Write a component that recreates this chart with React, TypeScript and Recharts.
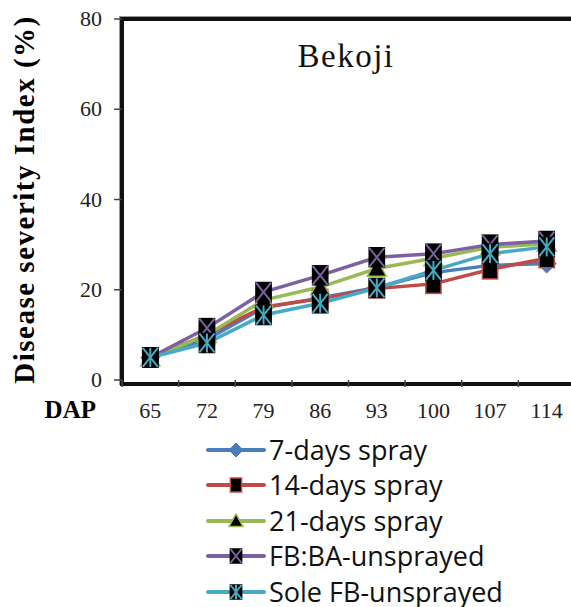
import React from 'react';
import { Customized, Legend, Line, LineChart, XAxis, YAxis } from 'recharts';

const days = [65, 72, 79, 86, 93, 100, 107, 114];
const spray7 = [5, 9, 16, 18.2, 20.5, 23.8, 25.4, 25.8];
const spray14 = [5, 10, 16.2, 18, 20.3, 21.3, 24.5, 27];
const spray21 = [4.8, 10, 17.7, 20.6, 24.7, 27, 29.4, 30.2];
const fbba = [5, 11.5, 19.5, 23.2, 27.2, 28, 30, 30.8];
const soleFb = [5, 8.2, 14.4, 17, 20.4, 24.3, 28, 29.5];

const boundaries = [61.5, 68.5, 75.5, 82.5, 89.5, 96.5, 103.5, 110.5];
const yTicks = [0, 20, 40, 60, 80];

const SERIES = [
  { key: 'spray7', name: '7-days spray', color: '#4a7ebb', kind: 'diamond' },
  { key: 'spray14', name: '14-days spray', color: '#be4b48', kind: 'square' },
  { key: 'spray21', name: '21-days spray', color: '#98b954', kind: 'triangle' },
  { key: 'fbba', name: 'FB:BA-unsprayed', color: '#7d60a0', kind: 'cross' },
  { key: 'soleFb', name: 'Sole FB-unsprayed', color: '#46aac5', kind: 'star' },
];

const data = days.map((d, i) => ({
  day: d,
  spray7: spray7[i],
  spray14: spray14[i],
  spray21: spray21[i],
  fbba: fbba[i],
  soleFb: soleFb[i],
}));

const SERIF = '"Liberation Serif", "Times New Roman", serif';
const SANS = '"Open Sans", "Noto Sans", sans-serif';

// plot box: y axis width 122, top margin 19, x axis height 49, legend 178
const PLOT = { left: 122, top: 19, width: 453, height: 361 };

function Marker({ kind, cx, cy, s, color }: { kind: string; cx: number; cy: number; s: number; color: string }) {
  const h = s / 2;
  if (kind === 'diamond') {
    return <path d={`M${cx},${cy - h} L${cx + h},${cy} L${cx},${cy + h} L${cx - h},${cy} Z`} fill={color} stroke={color} />;
  }
  if (kind === 'triangle') {
    return <path d={`M${cx},${cy - h} L${cx + h},${cy + h * 0.8} L${cx - h},${cy + h * 0.8} Z`} fill="#000" stroke={color} strokeWidth={1.5} />;
  }
  const box = <rect x={cx - h * 0.8} y={cy - h} width={h * 1.6} height={s} fill="#000" stroke={kind === 'square' ? color : '#000'} strokeWidth={1.5} />;
  if (kind === 'square') return box;
  const w = h * 0.8;
  return (
    <g>
      {box}
      <line x1={cx - w} y1={cy - h} x2={cx + w} y2={cy + h} stroke={color} strokeWidth={2} />
      <line x1={cx + w} y1={cy - h} x2={cx - w} y2={cy + h} stroke={color} strokeWidth={2} />
      {kind === 'star' && <line x1={cx} y1={cy - h} x2={cx} y2={cy + h} stroke={color} strokeWidth={2} />}
    </g>
  );
}

function DayTick(props: any) {
  const { x, y, payload } = props;
  if (days.includes(payload.value)) {
    return (
      <text x={x} y={y + 32} textAnchor="middle" style={{ fontFamily: SERIF, fontSize: 22 }} fill="#222">
        {payload.value}
      </text>
    );
  }
  return <line x1={x} y1={y - 6} x2={x} y2={y + 1} stroke="#444" strokeWidth={1.5} />;
}

function ValueTick(props: any) {
  const { x, y, payload } = props;
  return (
    <text x={x} y={y + 7} textAnchor="end" style={{ fontFamily: SERIF, fontSize: 22 }} fill="#222">
      {payload.value}
    </text>
  );
}

function LegendBox() {
  return (
    <div style={{ height: 178, paddingTop: 3, boxSizing: 'border-box' }}>
      {SERIES.map((s) => (
        <div key={s.key} style={{ display: 'flex', alignItems: 'center', height: 35.5 }}>
          <svg width={62} height={24} style={{ flex: 'none' }}>
            <line x1={3} y1={12} x2={59} y2={12} stroke={s.color} strokeWidth={4} strokeLinecap="round" />
            <Marker kind={s.kind} cx={31} cy={12} s={14} color={s.color} />
          </svg>
          <span style={{ fontFamily: SANS, fontSize: 27, lineHeight: '30px', color: '#111', marginLeft: 2, whiteSpace: 'nowrap' }}>{s.name}</span>
        </div>
      ))}
    </div>
  );
}

export default function App() {
  return (
    <div style={{ position: 'absolute', left: 0, top: 0, width: 571, height: 607, overflow: 'hidden', background: '#fff' }}>
      {/* plot frame (left, top, bottom) like the original chart box */}
      <div
        style={{
          position: 'absolute',
          left: PLOT.left - 2,
          top: PLOT.top - 2,
          width: PLOT.width,
          height: PLOT.height,
          borderLeft: '4px solid #111',
          borderTop: '4px solid #111',
          borderBottom: '4px solid #111',
          boxShadow: '-1px -1px 0 #999',
        }}
      />
      <div style={{ position: 'absolute', left: 0, top: 0 }}>
        <LineChart width={600} height={607} data={data} margin={{ top: PLOT.top, right: 25, bottom: 0, left: 0 }}>
          <XAxis
            dataKey="day"
            type="number"
            domain={[61.5, 117.5]}
            ticks={[...boundaries, ...days].sort((a, b) => a - b)}
            interval={0}
            height={49}
            tickLine={false}
            tickSize={6}
            tickMargin={0}
            tick={<DayTick />}
            axisLine={false}
            label={{ value: 'DAP', position: 'left', offset: 26, dy: 5, style: { fontFamily: SERIF, fontSize: 25, fontWeight: 'bold', fill: '#000' } }}
          />
          <YAxis
            domain={[0, 80]}
            ticks={yTicks}
            width={PLOT.left}
            tickSize={8}
            tickMargin={12}
            tickLine={{ stroke: '#444', strokeWidth: 1.5 }}
            axisLine={false}
            tick={<ValueTick />}
            label={{
              value: 'Disease severity Index (%)',
              angle: -90,
              position: 'insideLeft',
              offset: 24,
              style: { fontFamily: SERIF, fontSize: 29, letterSpacing: 1.5, fontWeight: 'bold', fill: '#000', textAnchor: 'middle' },
            }}
          />
          <Customized
            component={() => (
              <text x={346} y={67} textAnchor="middle" style={{ fontFamily: SERIF, fontSize: 33, letterSpacing: 1.5 }} fill="#111">
                Bekoji
              </text>
            )}
          />
          {SERIES.map((s) => (
            <Line
              key={s.key}
              dataKey={s.key}
              name={s.name}
              stroke={s.color}
              strokeWidth={3.5}
              isAnimationActive={false}
              dot={(p: any) => <Marker key={`${s.key}-${p.index}`} kind={s.kind} cx={p.cx} cy={p.cy} s={19} color={s.color} />}
            />
          ))}
          <Legend verticalAlign="bottom" content={() => <LegendBox />} wrapperStyle={{ left: 205, width: 380 }} />
        </LineChart>
      </div>
    </div>
  );
}
